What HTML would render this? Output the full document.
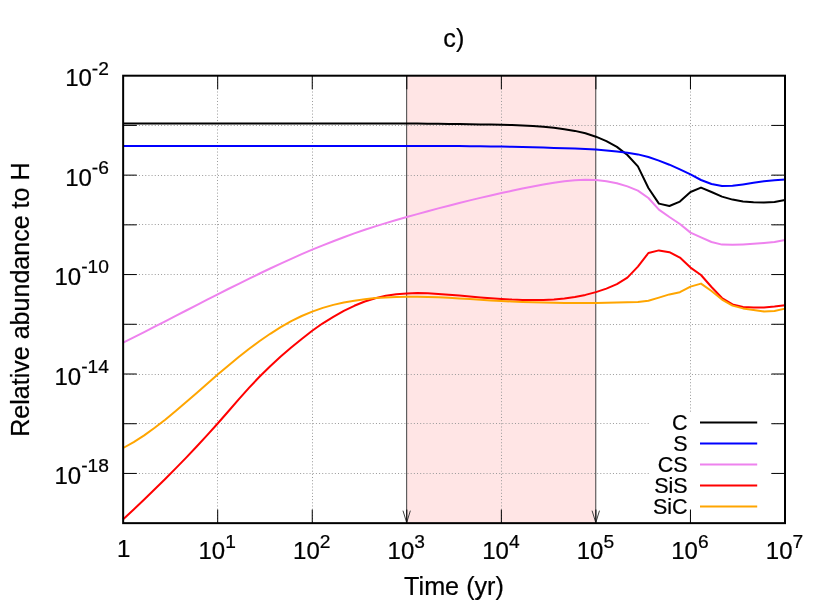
<!DOCTYPE html>
<html><head><meta charset="utf-8"><title>c)</title>
<style>
html,body{margin:0;padding:0;background:#fff;}
body{width:830px;height:604px;overflow:hidden;}
svg{display:block;will-change:transform;}
text{font-family:"Liberation Sans",sans-serif;fill:#000;stroke:#000;stroke-width:0.22px;}
</style></head><body>
<svg width="830" height="604" viewBox="0 0 830 604">
<rect x="0" y="0" width="830" height="604" fill="#ffffff"/>
<rect x="406.80" y="75.70" width="189.10" height="447.45" fill="#ffe5e5"/>
<g stroke="#9a9a9a" stroke-width="1" stroke-dasharray="1,2.16" fill="none">
<line x1="217.50" y1="75.70" x2="217.50" y2="523.15"/>
<line x1="312.50" y1="75.70" x2="312.50" y2="523.15"/>
<line x1="501.50" y1="75.70" x2="501.50" y2="523.15"/>
<line x1="690.50" y1="75.70" x2="690.50" y2="523.15"/>
<line x1="123.15" y1="125.50" x2="785.00" y2="125.50"/>
<line x1="123.15" y1="175.50" x2="785.00" y2="175.50"/>
<line x1="123.15" y1="224.50" x2="785.00" y2="224.50"/>
<line x1="123.15" y1="274.50" x2="785.00" y2="274.50"/>
<line x1="123.15" y1="324.50" x2="785.00" y2="324.50"/>
<line x1="123.15" y1="374.50" x2="785.00" y2="374.50"/>
<line x1="123.15" y1="423.50" x2="785.00" y2="423.50"/>
<line x1="123.15" y1="473.50" x2="785.00" y2="473.50"/>
</g>
<g stroke="#404040" stroke-width="1" fill="none">
<line x1="406.67" y1="75.70" x2="406.67" y2="523.15"/>
<polyline points="402.97,510.65 406.67,522.65 410.37,510.65"/>
<line x1="595.77" y1="75.70" x2="595.77" y2="523.15"/>
<polyline points="592.07,510.65 595.77,522.65 599.47,510.65"/>
</g>
<g fill="none" stroke-width="2" stroke-linejoin="round" stroke-linecap="butt">
<polyline stroke="#000000" points="123.2,123.4 133.7,123.4 144.2,123.4 154.7,123.4 165.2,123.4 175.7,123.4 186.2,123.4 196.7,123.4 207.2,123.4 217.7,123.4 228.2,123.4 238.7,123.4 249.2,123.4 259.7,123.4 270.2,123.4 280.7,123.4 291.2,123.4 301.7,123.4 312.2,123.4 322.8,123.4 333.3,123.4 343.8,123.4 354.3,123.4 364.8,123.4 375.3,123.5 385.8,123.5 396.3,123.5 406.8,123.5 417.3,123.6 427.8,123.7 438.3,123.8 448.8,124.0 459.3,124.1 469.8,124.2 480.3,124.4 490.8,124.6 501.4,124.8 511.9,125.1 522.4,125.5 532.9,126.0 543.4,126.8 553.9,127.8 564.4,129.2 574.9,130.9 585.4,133.3 595.9,136.7 606.4,141.2 616.9,146.9 627.4,155.0 637.9,166.4 648.4,188.0 658.9,203.6 669.4,206.0 679.9,201.6 690.5,192.0 701.0,187.6 711.5,192.0 722.0,196.6 732.5,199.6 743.0,201.4 753.5,202.2 764.0,202.6 774.5,202.0 785.0,200.0"/>
<polyline stroke="#0000ff" points="123.2,146.0 133.7,146.0 144.2,146.0 154.7,146.0 165.2,146.0 175.7,146.0 186.2,146.0 196.7,146.0 207.2,146.0 217.7,146.0 228.2,146.0 238.7,146.0 249.2,146.0 259.7,146.0 270.2,146.0 280.7,146.0 291.2,146.0 301.7,146.0 312.2,146.0 322.8,146.0 333.3,146.0 343.8,146.0 354.3,146.0 364.8,146.0 375.3,146.0 385.8,146.0 396.3,146.0 406.8,146.0 417.3,146.0 427.8,146.0 438.3,146.1 448.8,146.1 459.3,146.1 469.8,146.2 480.3,146.3 490.8,146.5 501.4,146.6 511.9,146.8 522.4,147.0 532.9,147.3 543.4,147.5 553.9,147.9 564.4,148.2 574.9,148.6 585.4,149.1 595.9,149.6 606.4,150.4 616.9,151.5 627.4,152.7 637.9,154.4 648.4,157.0 658.9,160.6 669.4,164.7 679.9,169.3 690.5,174.4 701.0,180.0 711.5,184.0 722.0,186.0 732.5,185.8 743.0,184.4 753.5,182.8 764.0,181.2 774.5,180.2 785.0,179.4"/>
<polyline stroke="#ee82ee" points="123.2,342.7 133.7,337.4 144.2,332.1 154.7,326.7 165.2,321.3 175.7,315.9 186.2,310.5 196.7,305.1 207.2,299.7 217.7,294.3 228.2,289.0 238.7,283.8 249.2,278.6 259.7,273.5 270.2,268.5 280.7,263.6 291.2,258.8 301.7,254.2 312.2,249.7 322.8,245.3 333.3,241.2 343.8,237.2 354.3,233.4 364.8,229.8 375.3,226.4 385.8,223.1 396.3,220.0 406.8,217.0 417.3,214.1 427.8,211.2 438.3,208.4 448.8,205.7 459.3,203.0 469.8,200.4 480.3,197.9 490.8,195.5 501.4,193.1 511.9,190.8 522.4,188.6 532.9,186.5 543.4,184.5 553.9,182.7 564.4,181.2 574.9,180.2 585.4,179.8 595.9,180.1 606.4,181.2 616.9,183.2 627.4,186.4 637.9,190.6 648.4,198.0 658.9,209.6 669.4,217.0 679.9,224.0 690.5,232.6 701.0,237.4 711.5,242.0 722.0,244.6 732.5,244.8 743.0,244.4 753.5,243.8 764.0,243.0 774.5,242.0 785.0,240.0"/>
<polyline stroke="#ff0000" points="123.2,519.3 133.7,509.5 144.2,499.5 154.7,489.3 165.2,479.0 175.7,468.4 186.2,457.6 196.7,446.5 207.2,435.1 217.7,423.5 228.2,411.5 238.7,399.4 249.2,387.7 259.7,376.5 270.2,366.2 280.7,356.6 291.2,347.6 301.7,339.0 312.2,330.8 322.8,323.3 333.3,316.8 343.8,310.9 354.3,305.8 364.8,301.5 375.3,298.2 385.8,295.8 396.3,294.3 406.8,293.4 417.3,293.1 427.8,293.3 438.3,293.9 448.8,294.7 459.3,295.5 469.8,296.5 480.3,297.4 490.8,298.2 501.4,299.0 511.9,299.6 522.4,299.9 532.9,300.1 543.4,299.9 553.9,299.4 564.4,298.4 574.9,296.9 585.4,294.9 595.9,292.1 606.4,288.6 616.9,284.1 627.4,277.6 637.9,266.6 648.4,253.0 658.9,250.4 669.4,252.2 679.9,257.6 690.5,267.6 701.0,275.0 711.5,287.0 722.0,298.0 732.5,304.4 743.0,307.0 753.5,307.6 764.0,307.4 774.5,306.6 785.0,305.2"/>
<polyline stroke="#ffa500" points="123.2,448.0 133.7,442.1 144.2,435.4 154.7,427.8 165.2,419.7 175.7,411.1 186.2,402.1 196.7,393.0 207.2,383.7 217.7,374.6 228.2,365.7 238.7,357.1 249.2,348.8 259.7,341.0 270.2,333.8 280.7,327.1 291.2,321.2 301.7,316.0 312.2,311.6 322.8,307.9 333.3,304.9 343.8,302.5 354.3,300.7 364.8,299.2 375.3,298.1 385.8,297.4 396.3,296.9 406.8,296.7 417.3,296.7 427.8,296.9 438.3,297.3 448.8,297.8 459.3,298.4 469.8,299.0 480.3,299.7 490.8,300.4 501.4,301.0 511.9,301.5 522.4,301.9 532.9,302.3 543.4,302.5 553.9,302.8 564.4,302.9 574.9,302.9 585.4,302.9 595.9,302.9 606.4,302.7 616.9,302.5 627.4,302.2 637.9,302.0 648.4,300.8 658.9,297.6 669.4,294.4 679.9,292.2 690.5,286.6 701.0,283.6 711.5,291.0 722.0,299.6 732.5,305.6 743.0,308.4 753.5,310.0 764.0,311.4 774.5,311.0 785.0,308.6"/>
</g>
<rect x="650" y="412" width="121.5" height="98.3" fill="#ffffff"/>
<g stroke="#000" stroke-width="1" fill="none">
<line x1="217.70" y1="523.15" x2="217.70" y2="509.55"/>
<line x1="217.70" y1="75.70" x2="217.70" y2="89.30"/>
<line x1="312.25" y1="523.15" x2="312.25" y2="509.55"/>
<line x1="312.25" y1="75.70" x2="312.25" y2="89.30"/>
<line x1="406.80" y1="523.15" x2="406.80" y2="509.55"/>
<line x1="406.80" y1="75.70" x2="406.80" y2="89.30"/>
<line x1="501.35" y1="523.15" x2="501.35" y2="509.55"/>
<line x1="501.35" y1="75.70" x2="501.35" y2="89.30"/>
<line x1="595.90" y1="523.15" x2="595.90" y2="509.55"/>
<line x1="595.90" y1="75.70" x2="595.90" y2="89.30"/>
<line x1="690.45" y1="523.15" x2="690.45" y2="509.55"/>
<line x1="690.45" y1="75.70" x2="690.45" y2="89.30"/>
<line x1="123.15" y1="125.42" x2="136.75" y2="125.42"/>
<line x1="785.00" y1="125.42" x2="771.40" y2="125.42"/>
<line x1="123.15" y1="175.13" x2="136.75" y2="175.13"/>
<line x1="785.00" y1="175.13" x2="771.40" y2="175.13"/>
<line x1="123.15" y1="224.85" x2="136.75" y2="224.85"/>
<line x1="785.00" y1="224.85" x2="771.40" y2="224.85"/>
<line x1="123.15" y1="274.57" x2="136.75" y2="274.57"/>
<line x1="785.00" y1="274.57" x2="771.40" y2="274.57"/>
<line x1="123.15" y1="324.28" x2="136.75" y2="324.28"/>
<line x1="785.00" y1="324.28" x2="771.40" y2="324.28"/>
<line x1="123.15" y1="374.00" x2="136.75" y2="374.00"/>
<line x1="785.00" y1="374.00" x2="771.40" y2="374.00"/>
<line x1="123.15" y1="423.72" x2="136.75" y2="423.72"/>
<line x1="785.00" y1="423.72" x2="771.40" y2="423.72"/>
<line x1="123.15" y1="473.43" x2="136.75" y2="473.43"/>
<line x1="785.00" y1="473.43" x2="771.40" y2="473.43"/>
</g>
<g fill="none" stroke-width="2">
<line stroke="#000000" x1="700" y1="422.4" x2="757.2" y2="422.4"/>
<line stroke="#0000ff" x1="700" y1="443.5" x2="757.2" y2="443.5"/>
<line stroke="#ee82ee" x1="700" y1="464.4" x2="757.2" y2="464.4"/>
<line stroke="#ff0000" x1="700" y1="485.4" x2="757.2" y2="485.4"/>
<line stroke="#ffa500" x1="700" y1="506.4" x2="757.2" y2="506.4"/>
</g>
<text x="687.6" y="429.6" font-size="21.5" text-anchor="end">C</text>
<text x="687.6" y="450.7" font-size="21.5" text-anchor="end">S</text>
<text x="687.6" y="471.6" font-size="21.5" text-anchor="end">CS</text>
<text x="687.6" y="492.6" font-size="21.5" text-anchor="end">SiS</text>
<text x="687.6" y="513.6" font-size="21.5" text-anchor="end">SiC</text>
<rect x="123.15" y="75.70" width="661.85" height="447.45" fill="none" stroke="#000" stroke-width="2"/>
<text x="453.8" y="46.8" font-size="25.2" text-anchor="middle">c)</text>
<text x="454.0" y="594.8" font-size="25.2" text-anchor="middle">Time (yr)</text>
<text transform="translate(28.8,299.6) rotate(-90)" font-size="25.05" text-anchor="middle">Relative abundance to H</text>
<text x="123.6" y="556.7" font-size="24.0" text-anchor="middle">1</text>
<text x="217.2" y="558.6" font-size="24.0" text-anchor="middle">10<tspan dy="-11.0" font-size="19.2">1</tspan></text>
<text x="311.8" y="558.6" font-size="24.0" text-anchor="middle">10<tspan dy="-11.0" font-size="19.2">2</tspan></text>
<text x="406.3" y="558.6" font-size="24.0" text-anchor="middle">10<tspan dy="-11.0" font-size="19.2">3</tspan></text>
<text x="500.9" y="558.6" font-size="24.0" text-anchor="middle">10<tspan dy="-11.0" font-size="19.2">4</tspan></text>
<text x="595.4" y="558.6" font-size="24.0" text-anchor="middle">10<tspan dy="-11.0" font-size="19.2">5</tspan></text>
<text x="689.9" y="558.6" font-size="24.0" text-anchor="middle">10<tspan dy="-11.0" font-size="19.2">6</tspan></text>
<text x="784.5" y="558.6" font-size="24.0" text-anchor="middle">10<tspan dy="-11.0" font-size="19.2">7</tspan></text>
<text x="108.9" y="86.4" font-size="24.0" text-anchor="end">10<tspan dy="-11.9" font-size="19.2">-2</tspan></text>
<text x="108.9" y="185.8" font-size="24.0" text-anchor="end">10<tspan dy="-11.9" font-size="19.2">-6</tspan></text>
<text x="108.9" y="285.3" font-size="24.0" text-anchor="end">10<tspan dy="-11.9" font-size="19.2">-10</tspan></text>
<text x="108.9" y="384.7" font-size="24.0" text-anchor="end">10<tspan dy="-11.9" font-size="19.2">-14</tspan></text>
<text x="108.9" y="484.1" font-size="24.0" text-anchor="end">10<tspan dy="-11.9" font-size="19.2">-18</tspan></text>
</svg>
</body></html>
